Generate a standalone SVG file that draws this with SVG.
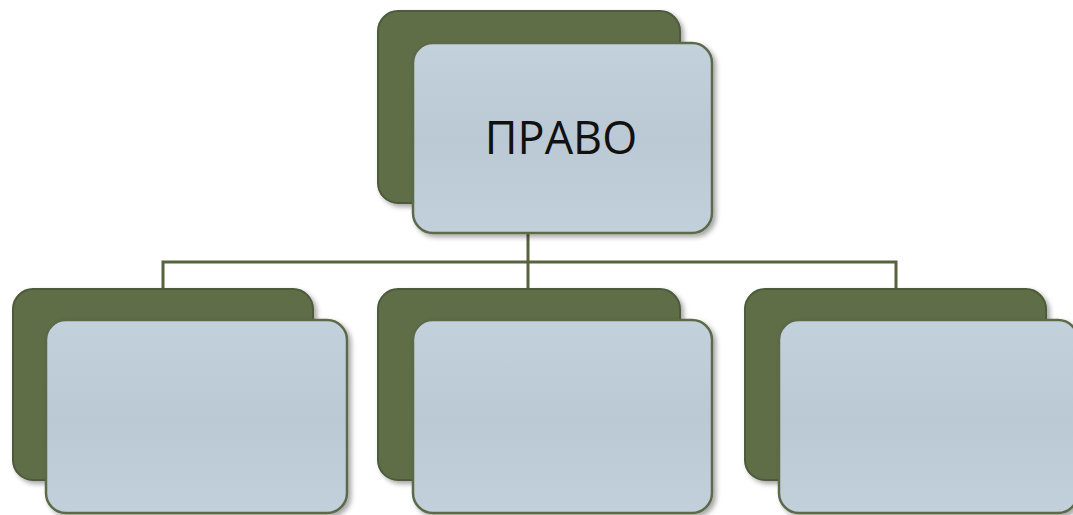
<svg xmlns="http://www.w3.org/2000/svg" width="1073" height="515" viewBox="0 0 1073 515">
<defs>
<filter id="sh" x="-10%" y="-10%" width="125%" height="125%">
<feDropShadow dx="3" dy="3" stdDeviation="2.5" flood-color="#000" flood-opacity="0.35"/>
</filter>
<linearGradient id="lg" x1="0" y1="0" x2="0" y2="1">
<stop offset="0" stop-color="#c3d1dc"/>
<stop offset="0.5" stop-color="#bac9d4"/>
<stop offset="1" stop-color="#c2d0dc"/>
</linearGradient>
</defs>
<style>
.back{fill:#5f6e47;stroke:#4d5a3a;stroke-width:2;filter:url(#sh)}
.front{fill:url(#lg);stroke:#5b6a4a;stroke-width:2.5;filter:url(#sh)}
.conn{fill:none;stroke:#56633f;stroke-width:3}
.lbl{font-family:"Open Sans","Liberation Sans",sans-serif;font-size:45px;fill:#111;text-anchor:middle}
</style>
<rect width="1073" height="515" fill="#fff"/>
<g id="connectors">
<path class="conn" d="M528 233 V289 M163 289 V262 H896 V289"/>
</g>
<g id="node-top">
<rect class="back" x="378" y="11" width="302" height="192" rx="20"/>
<rect class="front" x="413" y="43" width="299" height="190" rx="20"/>
<text class="lbl" x="561" y="154">ПРАВО</text>
</g>
<g id="node-left">
<rect class="back" x="13" y="289" width="300" height="191" rx="20"/>
<rect class="front" x="46" y="320" width="301" height="193" rx="20"/>
</g>
<g id="node-middle">
<rect class="back" x="378" y="289" width="302" height="191" rx="20"/>
<rect class="front" x="413" y="320" width="299" height="193" rx="20"/>
</g>
<g id="node-right">
<rect class="back" x="745" y="289" width="301" height="191" rx="20"/>
<rect class="front" x="779" y="320" width="299" height="193" rx="20"/>
</g>
</svg>
